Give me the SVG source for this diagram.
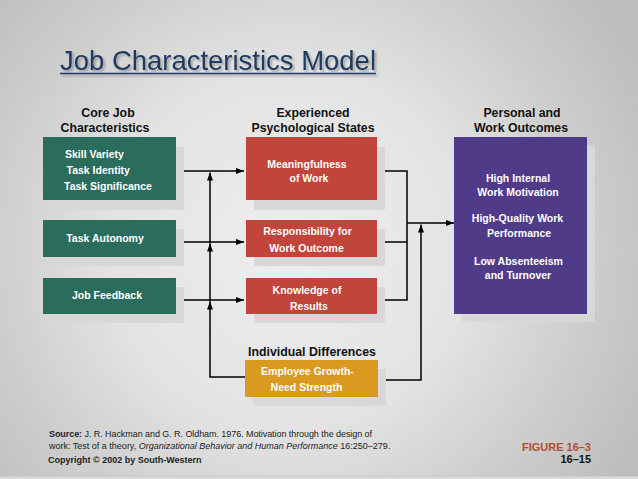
<svg xmlns="http://www.w3.org/2000/svg" width="638" height="479" viewBox="0 0 638 479">
<defs>
<radialGradient id="bg" gradientUnits="userSpaceOnUse" cx="290" cy="250" r="400">
<stop offset="0" stop-color="#eeeeee"/>
<stop offset="0.45" stop-color="#e3e3e3"/>
<stop offset="0.75" stop-color="#cdcdcd"/>
<stop offset="1" stop-color="#bdbdbd"/>
</radialGradient>
<filter id="ts" x="-5%" y="-20%" width="110%" height="150%">
<feDropShadow dx="2" dy="2" stdDeviation="1.2" flood-color="#777" flood-opacity="0.6"/>
</filter>
<marker id="ah" markerUnits="userSpaceOnUse" markerWidth="8" markerHeight="7" refX="8" refY="3.5" orient="auto">
<path d="M0,0.5 L8,3.5 L0,6.5 z" fill="#000"/>
</marker>
</defs>
<style>
.h{font-family:"Liberation Sans",Arial,sans-serif;font-weight:bold;font-size:12.3px;fill:#111;text-anchor:middle}
.n{font-family:"Liberation Sans",Arial,sans-serif;font-weight:bold;font-size:10.5px;fill:#fff}
.c{text-anchor:middle}
.sh{fill:#d8d8d8}
.g{fill:#2b6d5c}
.r{fill:#c1453a}
.p{fill:#4f3b87}
.y{fill:#d99a1f}
.ln{fill:none;stroke:#000;stroke-width:1.5}
.f{font-family:"Liberation Sans",Arial,sans-serif;font-size:9px;fill:#222}
</style>
<rect x="0" y="0" width="638" height="479" fill="url(#bg)"/>
<rect x="0" y="476" width="638" height="3" fill="#d9d9d9"/>
<line x1="0" y1="476" x2="638" y2="476" stroke="#bcbcbc" stroke-width="0.6"/>

<g id="title" filter="url(#ts)">
<text x="60" y="70" font-family="Liberation Sans, Arial, sans-serif" font-size="28" fill="#1d3a63" textLength="316" lengthAdjust="spacingAndGlyphs">Job Characteristics Model</text>
<line x1="60" y1="73.5" x2="376" y2="73.5" stroke="#1d3a63" stroke-width="1.6"/>
</g>

<g id="headings">
<text class="h" x="108" y="117">Core Job</text>
<text class="h" x="105" y="132">Characteristics</text>
<text class="h" x="313" y="117">Experienced</text>
<text class="h" x="313" y="132">Psychological States</text>
<text class="h" x="522" y="117">Personal and</text>
<text class="h" x="521" y="132">Work Outcomes</text>
</g>

<g id="core-skill">
<rect class="sh" x="51" y="147" width="133" height="63"/>
<rect class="g" x="43" y="137" width="133" height="63"/>
<text class="n" x="65" y="158">Skill Variety</text>
<text class="n" x="66.5" y="174">Task Identity</text>
<text class="n" x="64" y="190">Task Significance</text>
</g>
<g id="core-autonomy">
<rect class="sh" x="51" y="229" width="133" height="37"/>
<rect class="g" x="43" y="220" width="133" height="37"/>
<text class="n c" x="105" y="242">Task Autonomy</text>
</g>
<g id="core-feedback">
<rect class="sh" x="51" y="287" width="133" height="36"/>
<rect class="g" x="43" y="278" width="133" height="36"/>
<text class="n c" x="107" y="299">Job Feedback</text>
</g>

<g id="state-meaning">
<rect class="sh" x="254" y="147" width="131" height="63"/>
<rect class="r" x="246" y="137" width="131" height="63"/>
<text class="n c" x="307" y="168">Meaningfulness</text>
<text class="n c" x="309" y="182">of Work</text>
</g>
<g id="state-responsibility">
<rect class="sh" x="254" y="229" width="131" height="37"/>
<rect class="r" x="246" y="220" width="131" height="37"/>
<text class="n c" x="307.5" y="235">Responsibility for</text>
<text class="n c" x="306.5" y="252">Work Outcome</text>
</g>
<g id="state-knowledge">
<rect class="sh" x="254" y="287" width="131" height="36"/>
<rect class="r" x="246" y="278" width="131" height="36"/>
<text class="n c" x="307" y="294">Knowledge of</text>
<text class="n c" x="309" y="310">Results</text>
</g>

<g id="individual">
<text class="h" x="312" y="356">Individual Differences</text>
<rect class="sh" x="253" y="369" width="133" height="37"/>
<rect class="y" x="245" y="360" width="133" height="37"/>
<text class="n c" x="307.5" y="375">Employee Growth-</text>
<text class="n c" x="306.5" y="391">Need Strength</text>
</g>

<g id="outcomes">
<rect class="sh" x="462" y="145" width="133" height="177"/>
<rect class="p" x="454" y="137" width="133" height="177"/>
<text class="n c" x="518" y="182">High Internal</text>
<text class="n c" x="518" y="196">Work Motivation</text>
<text class="n c" x="517.5" y="222">High-Quality Work</text>
<text class="n c" x="519" y="237">Performance</text>
<text class="n c" x="518.5" y="265">Low Absenteeism</text>
<text class="n c" x="518" y="279">and Turnover</text>
</g>

<g id="connectors">
<path class="ln" d="M184,171 H244" marker-end="url(#ah)"/>
<path class="ln" d="M184,242 H244" marker-end="url(#ah)"/>
<path class="ln" d="M184,300 H244" marker-end="url(#ah)"/>
<path class="ln" d="M245,377 H210 V301.5" marker-end="url(#ah)"/>
<path class="ln" d="M210,301.5 V243.5" marker-end="url(#ah)"/>
<path class="ln" d="M210,243.5 V172.5" marker-end="url(#ah)"/>
<path class="ln" d="M385,171 H407 V300 H385"/>
<path class="ln" d="M385,242 H407"/>
<path class="ln" d="M407,223 H454" marker-end="url(#ah)"/>
<path class="ln" d="M386,380 H421 V224.5" marker-end="url(#ah)"/>
</g>

<g id="footer">
<text class="f" x="49" y="437" textLength="323"><tspan font-weight="bold">Source:</tspan> J. R. Hackman and G. R. Oldham. 1976. Motivation through the design of</text>
<text class="f" x="49" y="449">work: Test of a theory, <tspan font-style="italic">Organizational Behavior and Human Performance</tspan> 16:250–279.</text>
<text class="f" x="48" y="463" font-weight="bold">Copyright © 2002 by South-Western</text>
<text x="591" y="451" text-anchor="end" font-family="Liberation Sans, Arial, sans-serif" font-weight="bold" font-size="11" fill="#b0502a">FIGURE 16–3</text>
<text x="591" y="463" text-anchor="end" font-family="Liberation Sans, Arial, sans-serif" font-weight="bold" font-size="11" fill="#111">16–15</text>
</g>
</svg>
